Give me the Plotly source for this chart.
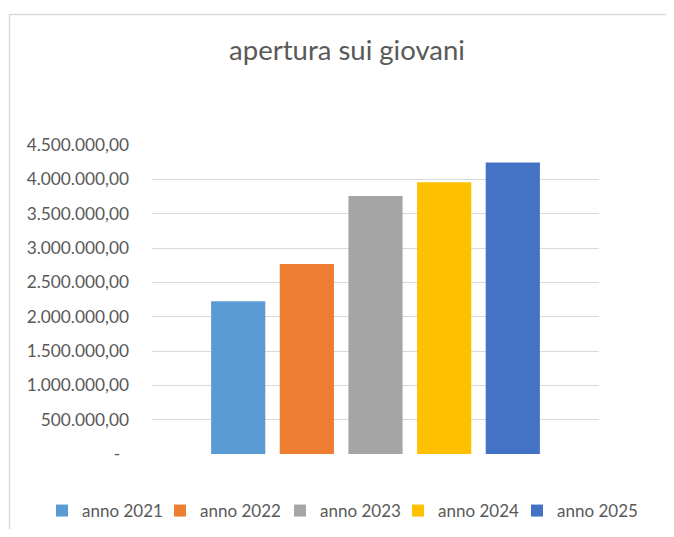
import plotly.graph_objects as go

series_names = ["anno 2021", "anno 2022", "anno 2023", "anno 2024", "anno 2025"]
values = [2224000, 2766000, 3759000, 3958000, 4244000]
colors = ["#5B9BD5", "#ED7D31", "#A5A5A5", "#FFC000", "#4472C4"]
tick_vals = [0, 500000, 1000000, 1500000, 2000000, 2500000, 3000000, 3500000, 4000000, 4500000]
tick_text = ["-\u00a0\u00a0", "500.000,00", "1.000.000,00", "1.500.000,00", "2.000.000,00",
             "2.500.000,00", "3.000.000,00", "3.500.000,00", "4.000.000,00", "4.500.000,00"]
title_text = "apertura sui giovani"

FONT = "Lato"
GRAY = "#595959"
OFF = 8  # page body margin

# legend text start positions in the reference picture (pixels)
legend_text_x = [82, 200, 320, 438, 557]

W, H = 674 - 2 * OFF, 537 - 2 * OFF
L, T = 152 - OFF, 145 - OFF
R = W - (599 - OFF)
B = H - (454 - OFF)
pw, ph = W - L - R, H - T - B

def px_x(x):
    return (x - OFF - L) / pw

def px_y(y):
    return (H - B - (y - OFF)) / ph

fig = go.Figure()
legend_layouts = {}
for i, (name, v, c) in enumerate(zip(series_names, values, colors)):
    key = "legend" if i == 0 else f"legend{i + 1}"
    fig.add_trace(go.Bar(x=[0], y=[v], name=name, legend=key, showlegend=True,
                         marker=dict(color=c, line=dict(width=0))))
    legend_layouts[key] = dict(
        orientation="h", xref="container", yref="container",
        x=(legend_text_x[i] - 40 - OFF) / W, xanchor="left",
        y=1 - (511 - OFF) / H, yanchor="middle",
        font=dict(family=FONT, size=17, color=GRAY),
        itemwidth=30, bgcolor="rgba(0,0,0,0)", borderwidth=0,
    )

fig.update_layout(
    width=W, height=H, showlegend=True,
    margin=dict(l=L, r=R, t=T, b=B, autoexpand=False),
    paper_bgcolor="white", plot_bgcolor="white",
    barmode="group", bargap=0.232, bargroupgap=0.211,
    title=dict(text=title_text, x=(347 - OFF) / W, xanchor="center", y=1 - (50 - OFF) / H, yanchor="middle",
               font=dict(family=FONT, size=27.5, color=GRAY)),
    xaxis=dict(range=[-0.5, 0.5], showticklabels=False, showgrid=False, zeroline=False,
               showline=False, ticks=""),
    yaxis=dict(range=[0, 4500000], tickvals=tick_vals, ticktext=tick_text,
               showgrid=True, gridcolor="#D9D9D9", gridwidth=1.3, zeroline=False,
               showline=False, ticks="", ticklabelstandoff=22,
               tickfont=dict(family=FONT, size=17.3, color=GRAY)),
    shapes=[dict(type="rect", xref="paper", yref="paper",
                 x0=px_x(9.5), x1=px_x(700), y0=px_y(570), y1=px_y(14.5),
                 line=dict(color="#D9D9D9", width=1.5), fillcolor="rgba(0,0,0,0)", layer="below")],
    **legend_layouts,
)

fig.write_html("out.html")
